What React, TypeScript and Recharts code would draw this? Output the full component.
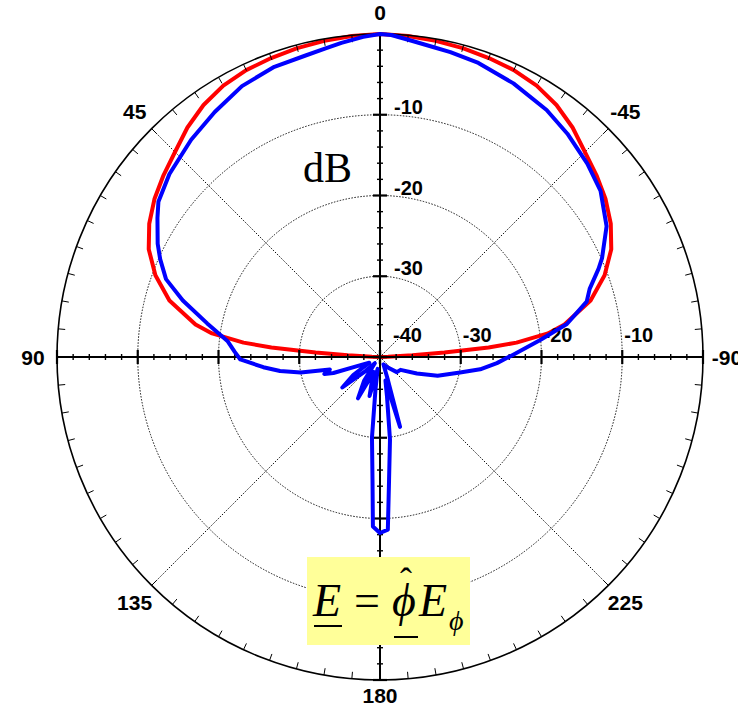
import React from 'react';
import { RadarChart, Radar, PolarGrid, PolarAngleAxis, PolarRadiusAxis } from 'recharts';

// ---- data ----
const RED_ANGLE = [0, 5, 10, 15, 20, 25, 30, 35, 40, 45, 50, 55, 60, 65, 70, 75, 80, 82, 84, 85, 86, 87, 88, 90,
  180, 270, 272, 273, 274, 275, 276, 278, 280, 285, 290, 295, 300, 305, 310, 315, 320, 325, 330, 335, 340, 345, 350, 355, 360];
const RED_DB = [0, -0.1, -0.25, -0.4, -0.6, -0.8, -1.2, -1.9, -2.9, -4.1, -5.0, -5.9, -7.0, -8.4, -10.4, -13.0, -16.8, -19.0, -23.0, -26.5, -32.0, -36.0, -39.0, -40,
  -40, -40, -39.0, -36.0, -32.0, -26.5, -23.0, -19.0, -16.8, -13.0, -10.4, -8.4, -7.0, -5.9, -5.0, -4.1, -2.9, -1.9, -1.2, -0.8, -0.6, -0.4, -0.25, -0.1, 0];

const BLUE_ANGLE = [0, 3, 7, 10, 14, 20, 27, 34, 41, 49, 55, 58, 63, 66, 70, 74, 79, 84, 88, 91,
  95, 98, 101, 104, 107, 109, 113, 118, 124, 129, 134, 140, 146, 152, 157, 161, 165, 169, 172, 174.3,
  176.5, 177.6, 180, 182.6, 184.2, 186.9, 190, 193, 196, 199, 205, 215, 228, 238, 246, 252, 259, 263, 267, 271,
  276, 280, 285, 288, 292, 294, 300, 307, 313, 320, 326, 334, 341.5, 347, 350.3, 354.6, 358, 360];
const BLUE_DB = [0, -0.3, -0.8, -1.2, -1.55, -1.75, -2.35, -3.4, -4.35, -5.45, -6.5, -7.5, -9.1, -10.2, -11.8, -14.6, -18.2, -21, -22, -22.7,
  -25.5, -27.5, -30, -33.6, -32.8, -33.9, -37.5, -38.5, -36, -34, -37.5, -39, -36.5, -34.2, -38, -37, -35, -38.5, -36, -30,
  -24.8, -19, -18.2, -18.6, -24.7, -29.7, -35, -37, -31, -37, -39, -38.5, -37.2, -37, -35, -32.5, -29.9, -27.5, -25.5, -23.5,
  -20.1, -16.5, -13.5, -12.7, -10.8, -9.9, -7.6, -5.8, -4.9, -3.9, -3.1, -2.3, -1.6, -1.25, -1.05, -0.6, -0.1, 0];

const ANGLE_LABEL_TICKS = [0, 45, 90, 135, 180, 225, 270, 315];
const ANGLE_LABELS = ['0', '45', '90', '135', '180', '225', '-90', '-45'];
const GRID_ANGLE_TICKS = [45, 135, 225, 315];
const GRID_RADIUS_TICKS = [-30, -20, -10];
const RADIUS_DOMAIN = [-40, 0];
const RADIUS_TICKS = [-40, -38, -36, -34, -32, -30, -28, -26, -24, -22, -20, -18, -16, -14, -12, -10, -8, -6, -4, -2, 0];
const MINOR_ANGLE_TICKS = Array.from({ length: 72 }, (_, i) => i * 5);

const redData = RED_ANGLE.map((a, i) => ({ angle: a, db: RED_DB[i] }));
const blueData = BLUE_ANGLE.map((a, i) => ({ angle: a, db: BLUE_DB[i] }));

const W = 738;
const H = 710;
const CX = 380;
const CY = 357;
const R = 323;
const SANS = 'Liberation Sans, Arial, sans-serif';
const SERIF = 'Liberation Serif, Times New Roman, serif';

const makeVTick = (withLabels: boolean) => (props: any) => {
  const { x, y, payload } = props;
  const v = payload.value;
  const major = v % 10 === 0;
  const h = major ? 7 : 3;
  return (
    <g>
      <line x1={x - h} x2={x + h} y1={y} y2={y} stroke="#000" strokeWidth={major ? 2.2 : 1.4} />
      {withLabels && major && v > -40 && v < 0 ? (
        <text x={x + 14} y={y - 8} dominantBaseline="central" fontSize={20} fontWeight="bold" fontFamily={SANS} fill="#000">{v}</text>
      ) : null}
    </g>
  );
};

const makeHTick = (withLabels: boolean) => (props: any) => {
  const { x, y, payload } = props;
  const v = payload.value;
  const major = v % 10 === 0;
  const h = major ? 7 : 3;
  return (
    <g>
      <line x1={x} x2={x} y1={y - h} y2={y + h} stroke="#000" strokeWidth={major ? 2.2 : 1.4} />
      {withLabels && major && v < 0 ? (
        <text x={x + (v === -40 ? 13 : 2)} y={y - 22} dominantBaseline="central" fontSize={20} fontWeight="bold" fontFamily={SANS} fill="#000">{v}</text>
      ) : null}
    </g>
  );
};

const AngleLabel = (props: any) => {
  const { x, y, payload } = props;
  const i = ANGLE_LABEL_TICKS.indexOf(payload.value);
  const dy = payload.value === 0 ? 2 : payload.value === 180 ? -9 : 0;
  return (
    <text x={x} y={y + dy} textAnchor="middle" dominantBaseline="central" fontSize={21} fontWeight="bold" fontFamily={SANS} fill="#000">
      {i >= 0 ? ANGLE_LABELS[i] : ''}
    </text>
  );
};

const chartProps = {
  width: W,
  height: H,
  cx: CX,
  cy: CY,
  innerRadius: 0,
  outerRadius: R,
  startAngle: 90,
  endAngle: 450,
  margin: { top: 0, right: 0, bottom: 0, left: 0 },
};

const abs: React.CSSProperties = { position: 'absolute', left: 0, top: 0 };

export default function App() {
  return (
    <div style={{ position: 'absolute', left: 0, top: 0, width: W, height: H, background: '#fff' }}>
      <div style={abs}>
        <RadarChart {...chartProps} data={redData}>
          <PolarAngleAxis angleAxisId="g" dataKey="angle" type="number" domain={[0, 360]} allowDataOverflow ticks={GRID_ANGLE_TICKS} tick={false} tickLine={false} axisLine={false} />
          <PolarRadiusAxis radiusAxisId="g" type="number" domain={RADIUS_DOMAIN} allowDataOverflow ticks={GRID_RADIUS_TICKS} tick={false} axisLine={false} />
          <PolarGrid angleAxisId="g" radiusAxisId="g" gridType="circle" stroke="#111" strokeWidth={1} strokeDasharray="1.5 1.5" />
          <PolarAngleAxis angleAxisId={0} dataKey="angle" type="number" domain={[0, 360]} allowDataOverflow ticks={MINOR_ANGLE_TICKS}
            orientation="inner" tickSize={7} tick={false} tickLine={{ stroke: '#000', strokeWidth: 1 }}
            axisLine={{ stroke: '#000', strokeWidth: 1.6 }} axisLineType="circle" />
          <PolarAngleAxis angleAxisId="lab" dataKey="angle" type="number" domain={[0, 360]} allowDataOverflow ticks={ANGLE_LABEL_TICKS}
            orientation="outer" tickSize={24} tickLine={false} axisLine={false} tick={AngleLabel} />
          <PolarRadiusAxis radiusAxisId={0} angle={90} type="number" domain={RADIUS_DOMAIN} allowDataOverflow ticks={RADIUS_TICKS}
            axisLine={{ stroke: '#000', strokeWidth: 2 }} tick={makeVTick(true)} />
          <PolarRadiusAxis radiusAxisId="down" angle={270} type="number" domain={RADIUS_DOMAIN} allowDataOverflow ticks={RADIUS_TICKS}
            axisLine={{ stroke: '#000', strokeWidth: 2 }} tick={makeVTick(false)} />
          <PolarRadiusAxis radiusAxisId="right" angle={0} type="number" domain={RADIUS_DOMAIN} allowDataOverflow ticks={RADIUS_TICKS}
            axisLine={{ stroke: '#000', strokeWidth: 2 }} tick={makeHTick(true)} />
          <PolarRadiusAxis radiusAxisId="left" angle={180} type="number" domain={RADIUS_DOMAIN} allowDataOverflow ticks={RADIUS_TICKS}
            axisLine={{ stroke: '#000', strokeWidth: 2 }} tick={makeHTick(false)} />
          <Radar dataKey="db" angleAxisId={0} radiusAxisId={0} stroke="#ff0000" strokeWidth={4} fill="none" fillOpacity={0}
            dot={false} isAnimationActive={false} strokeLinejoin="round" />
        </RadarChart>
      </div>
      <div style={abs}>
        <RadarChart {...chartProps} data={blueData}>
          <PolarAngleAxis dataKey="angle" type="number" domain={[0, 360]} allowDataOverflow tick={false} tickLine={false} axisLine={false} />
          <PolarRadiusAxis type="number" domain={RADIUS_DOMAIN} allowDataOverflow tick={false} axisLine={false} />
          <Radar dataKey="db" stroke="#0000ff" strokeWidth={4} fill="none" fillOpacity={0}
            dot={false} isAnimationActive={false} strokeLinejoin="round" />
        </RadarChart>
      </div>
      <svg style={{ ...abs, pointerEvents: 'none' }} width={W} height={H}>
        <text x={303} y={182} fontFamily={SERIF} fontSize={42} fill="#000">dB</text>
        <rect x={307} y={557} width={163} height={88} fill="#ffff99" />
        <text x={313} y={616} fontFamily={SERIF} fontSize={46} fontStyle="italic" fill="#000">E</text>
        <line x1={314} x2={342} y1={626} y2={626} stroke="#000" strokeWidth={2} />
        <text x={354} y={616} fontFamily={SERIF} fontSize={46} fill="#000">=</text>
        <text x={392} y={616} fontFamily={SERIF} fontSize={46} fontStyle="italic" fill="#000">ϕ</text>
        <text x={400} y={593} fontFamily={SERIF} fontSize={36} fill="#000">ˆ</text>
        <line x1={394} x2={418} y1={637} y2={637} stroke="#000" strokeWidth={2} />
        <text x={419} y={616} fontFamily={SERIF} fontSize={46} fontStyle="italic" fill="#000">E</text>
        <text x={449} y={630} fontFamily={SERIF} fontSize={28} fontStyle="italic" fill="#000">ϕ</text>
      </svg>
    </div>
  );
}
